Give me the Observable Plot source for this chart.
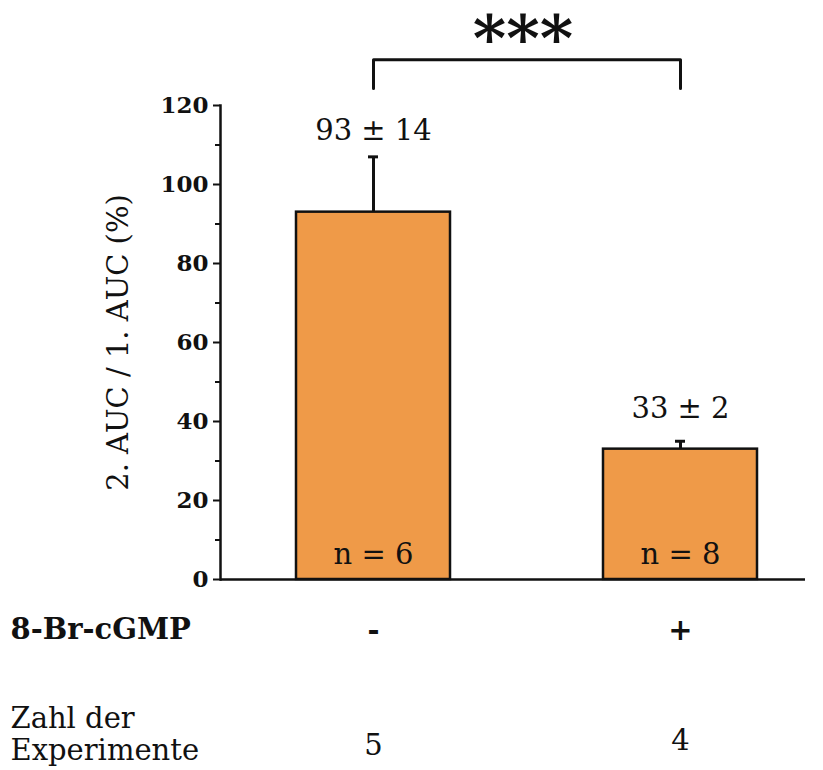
<!DOCTYPE html>
<html>
<head>
<meta charset="utf-8">
<script src="https://cdn.jsdelivr.net/npm/d3@7"></script>
<script src="https://cdn.jsdelivr.net/npm/@observablehq/plot@0.6"></script>
<style>
  html, body { margin: 0; padding: 0; background: #fff; }
  #chart { width: 823px; height: 770px; }
</style>
</head>
<body>
<div id="chart"></div>
<script>
// ---- data ----
const treatment = ["-", "+"];           // 8-Br-cGMP
const meanValues = [93, 33];            // 2. AUC / 1. AUC (%)
const semValues = [14, 2];
const nCells = [6, 8];
const experiments = [5, 4];              // Zahl der Experimente
const yTicks = [0, 20, 40, 60, 80, 100, 120];
const yMinorTicks = [10, 30, 50, 70, 90, 110];
const significance = "***";
const yTitle = "2. AUC / 1. AUC (%)";
const rowLabel1 = "8-Br-cGMP";
const rowLabel2 = "Zahl der\nExperimente";

const rows = treatment.map((t, i) => ({
  treatment: t, mean: meanValues[i], sem: semValues[i], n: nCells[i], exp: experiments[i]
}));

// bracket above the bars (data units on the y scale)
const bracketTop = 131.6, bracketFoot = 124.3;
const bracket = [
  {x: treatment[0], y: bracketFoot},
  {x: treatment[0], y: bracketTop},
  {x: treatment[1], y: bracketTop},
  {x: treatment[1], y: bracketFoot}
];

const font = "DejaVu Serif";
const only = (t) => (d) => d.treatment === t;

const chart = Plot.plot({
  width: 823,
  height: 770,
  marginTop: 105,
  marginBottom: 191,
  marginLeft: 220,
  marginRight: 18,
  style: {fontFamily: font, background: "#fff", color: "#111", overflow: "visible"},
  x: {type: "band", domain: treatment, range: [296, 757], paddingInner: 0.5, paddingOuter: 0, axis: null},
  y: {domain: [0, 120], axis: null},
  marks: [
    // bars
    Plot.barY(rows, {x: "treatment", y: "mean", fill: "#ef9a48", stroke: "#111", strokeWidth: 2.5}),
    // error bars
    Plot.ruleX(rows, {x: "treatment", y1: "mean", y2: d => d.mean + d.sem, stroke: "#111", strokeWidth: 3}),
    Plot.tickY(rows, {x: "treatment", y: d => d.mean + d.sem, stroke: "#111", strokeWidth: 3, insetLeft: 72, insetRight: 72}),
    // axes lines
    Plot.ruleY([0], {stroke: "#111", strokeWidth: 2.5}),
    Plot.frame({anchor: "left", stroke: "#111", strokeWidth: 2.5}),
    // y ticks
    Plot.axisY(yTicks, {tickSize: 7, tickPadding: 5, fontSize: 23, fontWeight: "bold", stroke: "#111", strokeWidth: 2, label: null}),
    Plot.axisY(yMinorTicks, {tickSize: 5, tickFormat: () => "", stroke: "#111", strokeWidth: 2, label: null}),
    // y title
    Plot.text([yTitle], {frameAnchor: "left", textAnchor: "middle", rotate: -90, dx: -102, fontSize: 29, text: d => d}),
    // mean ± sem labels
    Plot.text(rows, {filter: only("-"), x: "treatment", y: d => d.mean + d.sem, text: d => `${d.mean} ± ${d.sem}`, dy: -26, fontSize: 29}),
    Plot.text(rows, {filter: only("+"), x: "treatment", y: d => d.mean + d.sem, text: d => `${d.mean} ± ${d.sem}`, dy: -33, fontSize: 29}),
    // n labels in bars
    Plot.text(rows, {x: "treatment", y: 0, text: d => `n = ${d.n}`, dy: -25, fontSize: 29}),
    // treatment row
    Plot.text(rows, {x: "treatment", y: 0, text: "treatment", dy: 51, fontSize: 29, fontWeight: "bold"}),
    // experiments row
    Plot.text(rows, {filter: only("-"), x: "treatment", y: 0, text: "exp", dy: 166, fontSize: 29}),
    Plot.text(rows, {filter: only("+"), x: "treatment", y: 0, text: "exp", dy: 161, fontSize: 29}),
    // row labels
    Plot.text([rowLabel1], {frameAnchor: "bottom-left", dx: -210, dy: 59, textAnchor: "start", fontSize: 29, fontWeight: "bold", text: d => d}),
    Plot.text([rowLabel2], {frameAnchor: "bottom-left", dx: -210, dy: 180, textAnchor: "start", fontSize: 29, lineHeight: 1.1, text: d => d}),
    // significance bracket
    Plot.line(bracket, {x: "x", y: "y", stroke: "#111", strokeWidth: 3}),
    Plot.text([significance], {frameAnchor: "top", dx: 10, dy: -90, fontSize: 64, fontWeight: "bold", text: d => d})
  ]
});

document.getElementById("chart").appendChild(chart);
</script>
</body>
</html>
